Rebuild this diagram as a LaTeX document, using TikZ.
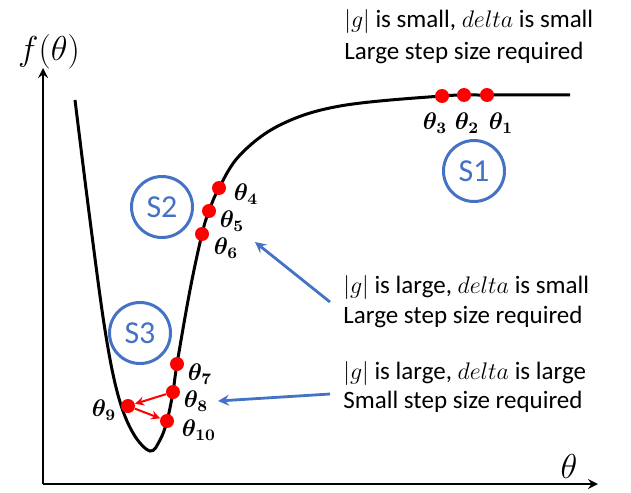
\documentclass[tikz,border=0pt]{standalone}
\usepackage{amsmath}
\usepackage{bm}
\usepackage{fontspec}
\setmainfont{Carlito}
\usepackage{xcolor}
\usetikzlibrary{arrows,positioning}
\definecolor{sblue}{RGB}{68,114,196}

\begin{document}
\begin{tikzpicture}[
        x=0.5pt, y=-0.5pt,
        dot/.style={circle, fill=red, inner sep=0pt, minimum size=7pt},
        lbl/.style={font=\fontsize{12}{14}\selectfont, inner sep=1pt},
        region/.style={circle, draw=sblue, line width=1.5pt, minimum size=30.5pt, inner sep=0pt, font=\fontsize{16}{19}\selectfont, text=sblue},
        note/.style={align=left, font=\fontsize{12.5}{15}\selectfont, inner sep=0pt},
        arrow/.style={-stealth, line width=1.4pt, sblue},
        step arrow/.style={-stealth, line width=1pt, red}
    ]
        \useasboundingbox (0,0) rectangle (631,492);
        % axes
        \coordinate (origin) at (43,484);
        \coordinate (ytop) at (43,68);
        \coordinate (xend) at (598,484);
        \draw[line width=1.2pt, -stealth] (origin) -- (ytop);
        \draw[line width=1.2pt, -stealth] (origin) -- (xend);
        \node[font=\fontsize{19}{22}\selectfont] (ylabel) at (49,52) {$f(\theta)$};
        \node[font=\fontsize{16}{19}\selectfont] (xlabel) at (569,466) {$\theta$};
        % loss curve
        \draw[line width=1.5pt, black] plot[smooth, tension=0.6] coordinates {
            (75,100) (90,220) (105,330) (118,395) (133,433) (150,451)
            (160,440) (167,421) (173,392) (177,364) (190,290) (202,234)
            (209,211) (219,188) (240,155) (280,125) (340,106) (442,96)
            (487,95) (570,95)};
        % steps
        \node[dot] (t1) at (487,95) {};
        \node[dot] (t2) at (464,95) {};
        \node[dot] (t3) at (442,96) {};
        \node[dot] (t4) at (219,188) {};
        \node[dot] (t5) at (209,211) {};
        \node[dot] (t6) at (202,234) {};
        \node[dot] (t7) at (177,364) {};
        \node[dot] (t8) at (173,392) {};
        \node[dot] (t9) at (128,406) {};
        \node[dot] (t10) at (167,421) {};
        \node[lbl] (l1) at (501,123) {$\bm{\theta_1}$};
        \node[lbl] (l2) at (467,123) {$\bm{\theta_2}$};
        \node[lbl] (l3) at (435,123) {$\bm{\theta_3}$};
        \node[lbl] (l4) at (246,194) {$\bm{\theta_4}$};
        \node[lbl] (l5) at (232,221) {$\bm{\theta_5}$};
        \node[lbl] (l6) at (226,248) {$\bm{\theta_6}$};
        \node[lbl] (l7) at (200,374) {$\bm{\theta_7}$};
        \node[lbl] (l8) at (196,401) {$\bm{\theta_8}$};
        \node[lbl] (l9) at (104,410) {$\bm{\theta_9}$};
        \node[lbl] (l10) at (199,430) {$\bm{\theta_{10}}$};
        \draw[step arrow] (t8) -- (t9);
        \draw[step arrow] (t9) -- (t10);
        % regions
        \node[region] (s1) at (474,171) {S1};
        \node[region] (s2) at (162,207) {S2};
        \node[region] (s3) at (140,333) {S3};
        % notes
        \node[note, anchor=west] (n1) at (344,22) {$|g|$ is small, $delta$ is small};
        \node[note, anchor=west] (n1b) at (344,53) {Large step size required};
        \node[note, anchor=west] (n2) at (343,287) {$|g|$ is large, $delta$ is small};
        \node[note, anchor=west] (n2b) at (343,317) {Large step size required};
        \node[note, anchor=west] (n3) at (343,373) {$|g|$ is large, $delta$ is large};
        \node[note, anchor=west] (n3b) at (343,402) {Small step size required};
        \coordinate (a2) at (330,302);
        \coordinate (a3) at (330,394);
        \coordinate (a2tip) at (255,242);
        \coordinate (a3tip) at (218,401);
        \draw[arrow] (a2) -- (a2tip);
        \draw[arrow] (a3) -- (a3tip);
    \end{tikzpicture}
\end{document}
